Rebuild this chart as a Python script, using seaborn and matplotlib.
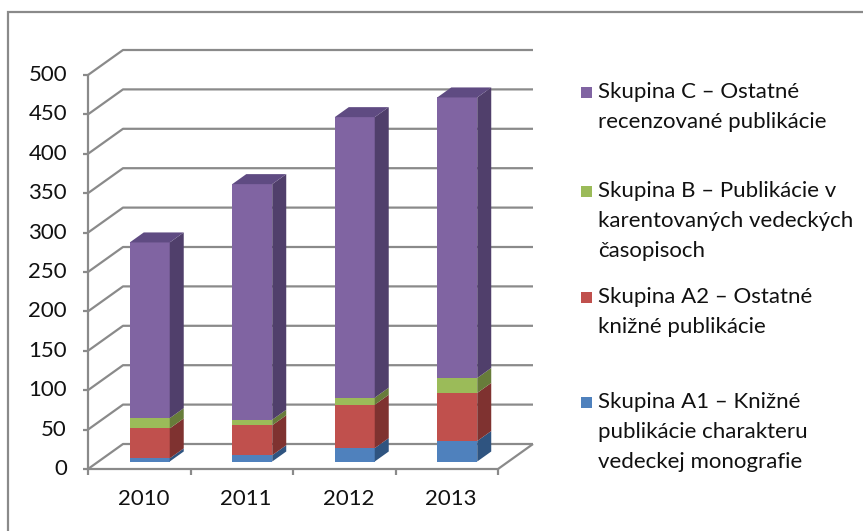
import numpy as np
import matplotlib
matplotlib.use("Agg")
import matplotlib.pyplot as plt
from matplotlib.patches import Polygon, Rectangle
import seaborn as sns

# --- Data ---
years = ["2010", "2011", "2012", "2013"]
a1 = [4, 8, 17, 26]
a2 = [38, 38, 55, 61]
b = [13, 7, 9, 19]
c = [223, 299, 356, 356]
y_ticks = list(range(0, 501, 50))

legend_lines = [
    ["Skupina C – Ostatné", "recenzované publikácie"],
    ["Skupina B – Publikácie v", "karentovaných vedeckých", "časopisoch"],
    ["Skupina A2 – Ostatné", "knižné publikácie"],
    ["Skupina A1 – Knižné", "publikácie charakteru", "vedeckej monografie"],
]

# bottom -> top: A1, A2, B, C
front_colors = ["#4F81BD", "#C0504D", "#9BBB59", "#8064A2"]
side_colors = ["#2F5480", "#7F3230", "#677C3A", "#503F6B"]
top_color = "#5F4B82"
grid_color = "#8A8A8A"
text_color = "#111111"

# --- Setup ---
sns.set_theme(style="white")
plt.rcParams["font.family"] = ["Lato", "DejaVu Sans"]

W, H = 863, 531
fig = plt.figure(figsize=(W / 100, H / 100), dpi=100)


def fx(px):
    return px / W


def fy(py):
    return 1 - py / H


# axes lie in the plane of the bar fronts (depth 0.3 of the 3D box)
ax = fig.add_axes([fx(98.5), fy(461.5), (508.5 - 98.5) / W, (461.5 - 67.5) / H])

DX = 35 / 102.5      # category units for full depth
DY = 25 / 0.788      # value units for full depth
BAR_D = 0.3          # depth of bar front
BAR_DEPTH = 0.4
BAR_W = 0.39


def proj(x, v, d):
    return x + (d - BAR_D) * DX, v + (d - BAR_D) * DY


def line(pts, **kw):
    xs, ys = zip(*pts)
    ax.plot(xs, ys, color=grid_color, lw=1.6, clip_on=False,
            solid_capstyle="butt", **kw)


# --- Walls & gridlines ---
for v in y_ticks:
    line([proj(-0.5, v, 0), proj(-0.5, v, 1), proj(3.5, v, 1)], zorder=0)
line([proj(-0.5, 0, 0), proj(3.5, 0, 0), proj(3.5, 0, 1)], zorder=0)
line([proj(-0.5, 0, 0), proj(-0.5, 500, 0)], zorder=0)

for v in y_ticks:
    x0, y0 = proj(-0.5, v, 0)
    line([(x0 - 5 / 102.5, y0), (x0, y0)], zorder=0)
    ax.annotate(str(v), xy=(x0, y0), xytext=(-21, 0), textcoords="offset pixels",
                ha="right", va="center", fontsize=16, color=text_color,
                annotation_clip=False)

for k in range(len(years) + 1):
    x0, y0 = proj(k - 0.5, 0, 0)
    line([(x0, y0), (x0, y0 - 7.5)], zorder=0)

for k, yr in enumerate(years):
    x0, y0 = proj(k, 0, 0)
    ax.annotate(yr, xy=(x0, y0), xytext=(4, -30), textcoords="offset pixels",
                ha="center", va="center", fontsize=16, color=text_color,
                annotation_clip=False)

# --- Bars ---
cum = np.cumsum([a1, a2, b, c], axis=0)
for i in reversed(range(4)):
    sns.barplot(x=years, y=cum[i], color=front_colors[i], saturation=1,
                width=BAR_W, errorbar=None, ax=ax, zorder=3, linewidth=0)

ddx, ddy = BAR_DEPTH * DX, BAR_DEPTH * DY
for k in range(len(years)):
    xl, xr = k - BAR_W / 2, k + BAR_W / 2
    for i in range(4):
        lo = cum[i - 1][k] if i > 0 else 0
        hi = cum[i][k]
        ax.add_patch(Polygon([(xr, lo), (xr, hi), (xr + ddx, hi + ddy), (xr + ddx, lo + ddy)],
                             closed=True, facecolor=side_colors[i], edgecolor="none",
                             zorder=3, clip_on=False))
    top = cum[-1][k]
    ax.add_patch(Polygon([(xl, top), (xr, top), (xr + ddx, top + ddy), (xl + ddx, top + ddy)],
                         closed=True, facecolor=top_color, edgecolor="none",
                         zorder=3, clip_on=False))

ax.set_xlim(-0.5, 3.5)
ax.set_ylim(0, 500)
ax.axis("off")

# --- Legend ---
legend_y = [92, 191, 297, 402]
legend_colors = front_colors[::-1]
for lines, y0, col in zip(legend_lines, legend_y, legend_colors):
    fig.add_artist(Rectangle((fx(581), fy(y0 + 5.5)), 11 / W, 11 / H,
                             transform=fig.transFigure, facecolor=col, edgecolor="none"))
    for j, txt in enumerate(lines):
        fig.text(fx(598), fy(y0 + 30 * j), txt, ha="left", va="center",
                 fontsize=16, color=text_color)

# --- Outer frame ---
fig.add_artist(Rectangle((fx(8), -0.1), 1.2, fy(12) + 0.1, transform=fig.transFigure,
                         facecolor="none", edgecolor="#8A8A8A", lw=1.6))

fig.savefig("out.png", dpi=100)
